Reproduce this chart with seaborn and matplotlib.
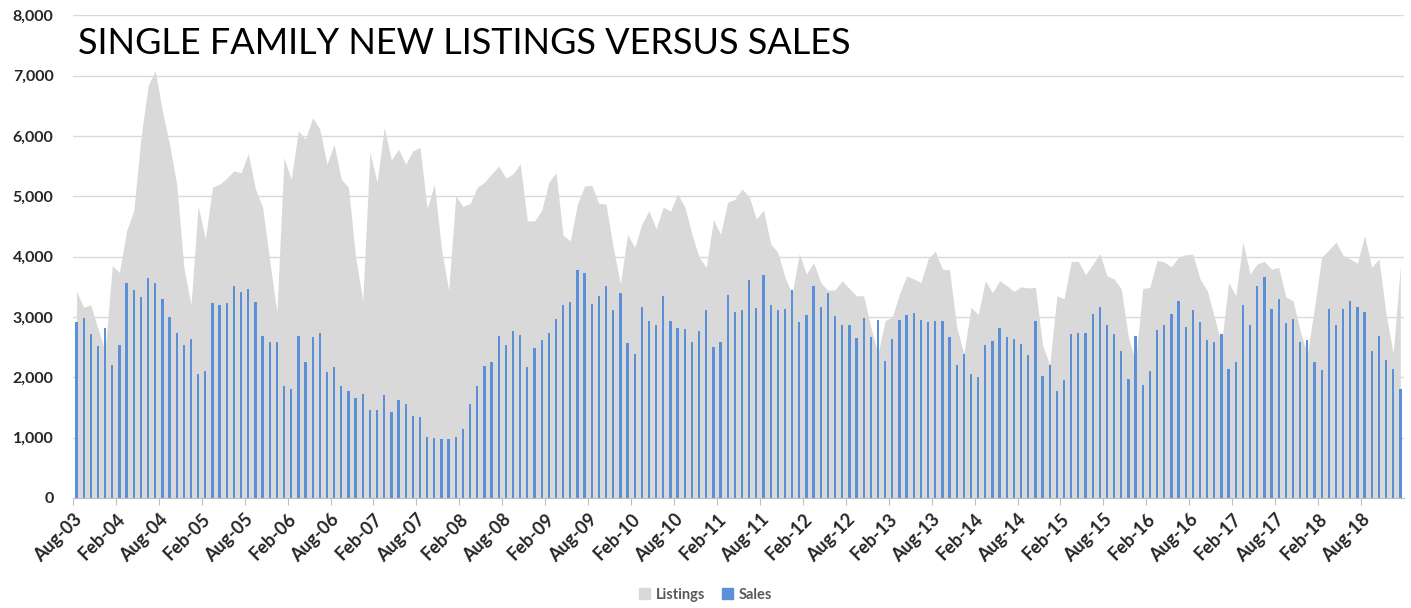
from matplotlib import pyplot as plt
from matplotlib.patches import Patch
from matplotlib.transforms import ScaledTranslation
import numpy as np
import pandas as pd
import seaborn as sns

# monthly values, Aug-03 .. Jan-19
listings = [
    3425, 3160, 3200, 2800, 2440, 3850, 3740, 4430, 4760, 5970, 6830, 7080,
    6410, 5860, 5200, 3820, 3200, 4840, 4290, 5150, 5200, 5300, 5420, 5390,
    5710, 5120, 4820, 3930, 3080, 5640, 5280, 6080, 5950, 6300, 6110, 5530,
    5860, 5280, 5150, 3990, 3270, 5730, 5230, 6140, 5600, 5780, 5530, 5750,
    5810, 4790, 5200, 4130, 3440, 5010, 4830, 4880, 5150, 5230, 5370, 5500,
    5300, 5370, 5540, 4590, 4590, 4760, 5230, 5390, 4350, 4260, 4870, 5170,
    5180, 4880, 4870, 4150, 3550, 4370, 4150, 4540, 4760, 4460, 4820, 4750,
    5040, 4820, 4370, 3990, 3820, 4610, 4370, 4900, 4950, 5120, 4990, 4620,
    4770, 4210, 4070, 3660, 3380, 4050, 3710, 3900, 3570, 3440, 3450, 3600,
    3470, 3350, 3350, 2830, 2390, 2940, 3000, 3380, 3680, 3630, 3570, 3960,
    4090, 3790, 3780, 2830, 2390, 3160, 3040, 3600, 3400, 3600, 3520, 3420,
    3500, 3480, 3490, 2530, 2210, 3350, 3300, 3920, 3920, 3700, 3870, 4050,
    3680, 3630, 3460, 2660, 2250, 3470, 3490, 3940, 3910, 3830, 3990, 4030,
    4040, 3630, 3440, 3000, 2550, 3570, 3350, 4240, 3710, 3880, 3920, 3790,
    3820, 3330, 3270, 2770, 2380, 3160, 3990, 4110, 4240, 4020, 3960, 3890,
    4350, 3820, 3960, 3050, 2390, 3850,
]
sales = [
    2920, 2980, 2710, 2510, 2810, 2210, 2530, 3560, 3440, 3330, 3650, 3560,
    3300, 3000, 2730, 2530, 2640, 2060, 2110, 3230, 3200, 3230, 3510, 3410,
    3470, 3240, 2690, 2590, 2590, 1860, 1810, 2680, 2260, 2660, 2730, 2080,
    2170, 1850, 1780, 1660, 1730, 1450, 1450, 1700, 1420, 1620, 1550, 1360,
    1340, 1010, 990, 980, 970, 1010, 1140, 1560, 1850, 2180, 2250, 2690,
    2530, 2760, 2700, 2170, 2490, 2610, 2730, 2960, 3190, 3240, 3780, 3730,
    3220, 3340, 3520, 3120, 3400, 2570, 2380, 3160, 2940, 2870, 3340, 2940,
    2810, 2800, 2590, 2760, 3110, 2500, 2580, 3370, 3080, 3110, 3620, 3150,
    3700, 3200, 3110, 3130, 3450, 2920, 3040, 3520, 3170, 3400, 3020, 2870,
    2870, 2650, 2980, 2660, 2950, 2270, 2630, 2950, 3030, 3060, 2950, 2920,
    2930, 2930, 2660, 2200, 2380, 2060, 2000, 2530, 2600, 2810, 2660, 2630,
    2550, 2370, 2930, 2020, 2210, 1780, 1960, 2710, 2740, 2740, 3050, 3170,
    2860, 2710, 2430, 1970, 2680, 1880, 2110, 2790, 2860, 3050, 3260, 2830,
    3110, 2920, 2610, 2590, 2710, 2130, 2250, 3190, 2860, 3510, 3660, 3130,
    3290, 2900, 2960, 2590, 2620, 2250, 2120, 3130, 2870, 3130, 3260, 3170,
    3080, 2430, 2680, 2290, 2130, 1810,
]
months = pd.date_range("2003-08-01", periods=len(sales), freq="MS")
tick_labels = [m.strftime("%b-%y") for m in months[::6]]
yticks = list(range(0, 8001, 1000))

df = pd.DataFrame({"pos": np.arange(len(sales)), "listings": listings, "sales": sales})

sns.set_style("white")
plt.rcParams["font.family"] = ["Lato", "DejaVu Sans"]

fig = plt.figure(figsize=(14.11, 6.08), dpi=100)
ax = fig.add_axes([0.0517, 0.181, 0.9433, 0.794])

for y in yticks[1:]:
    ax.axhline(y, color="#d9d9d9", lw=1, zorder=0)

ax.fill_between(df["pos"], 0, df["listings"], color="#d9d9d9", lw=0, zorder=1)
sns.barplot(data=df, x="pos", y="sales", color="#5b8fd8", saturation=1,
            width=0.32, native_scale=True, linewidth=0, edgecolor="none",
            ax=ax, zorder=2)

ax.set_xlim(-0.5, len(sales) - 0.5)
ax.set_ylim(0, 8000)
ax.set_yticks(yticks)
ax.set_yticklabels([f"{v:,}" for v in yticks], fontsize=11.5, fontweight="bold")
ax.set_xticks(np.arange(0, len(sales), 6) - 0.5)
ax.set_xticklabels(tick_labels, rotation=45, ha="right", rotation_mode="anchor",
                   fontsize=13, fontweight="bold")
shift = ScaledTranslation(0.07, -0.06, fig.dpi_scale_trans)
for lab in ax.get_xticklabels():
    lab.set_transform(lab.get_transform() + shift)
ax.tick_params(axis="y", length=0, pad=14)
ax.tick_params(axis="x", length=5, color="#bfbfbf", pad=4, direction="out", bottom=True)
ax.set_xlabel("")
ax.set_ylabel("")
for side in ["top", "left", "right"]:
    ax.spines[side].set_visible(False)
ax.spines["bottom"].set_color("#bfbfbf")

fig.text(0.0553, 0.929, "SINGLE FAMILY NEW LISTINGS VERSUS SALES",
         fontsize=26, va="center", ha="left", color="black")

handles = [Patch(color="#d9d9d9", label="Listings"), Patch(color="#5b8fd8", label="Sales")]
leg = fig.legend(handles=handles, loc="center", bbox_to_anchor=(0.5, 0.022), ncol=2,
                 frameon=False, handlelength=0.8, handleheight=0.8, columnspacing=1.2,
                 handletextpad=0.4)
for t in leg.get_texts():
    t.set_color("#595959")
    t.set_fontsize(10.5)
    t.set_fontweight("bold")

fig.savefig("out.png", dpi=100)
